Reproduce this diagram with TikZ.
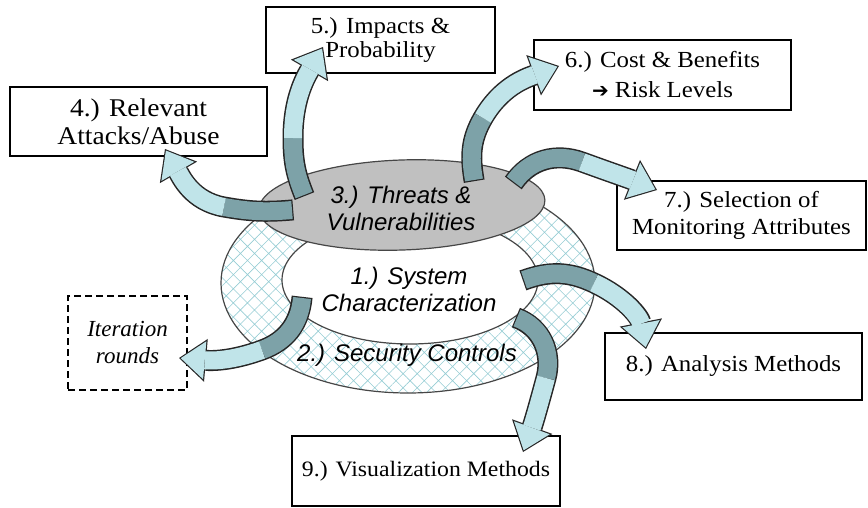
\documentclass[tikz,border=0pt]{standalone}
\usepackage{fontspec}
\setmainfont{Liberation Serif}
\setsansfont{Liberation Sans}
\newfontfamily\boxfont{Liberation Serif}[FakeStretch=1.08]
\newfontfamily\symfont{DejaVu Sans}
\usetikzlibrary{arrows.meta,patterns.meta}

\definecolor{ringhatch}{RGB}{150,205,212}
\definecolor{threatgray}{RGB}{192,192,192}
\definecolor{edgegray}{RGB}{70,70,70}
\definecolor{arrowlight}{RGB}{192,228,233}
\definecolor{arrowdark}{RGB}{125,162,168}

\tikzset{
  box/.style={draw, line width=1.3pt, fill=white, inner sep=0pt, align=center,
    font=\boxfont\fontsize{23}{27}\selectfont},
  ringline/.style={draw=edgegray, line width=1.2pt},
  ovaltext/.style={align=center, font=\sffamily\itshape\fontsize{24}{27}\selectfont},
  twistrim/.style={draw=black!85, line width=21pt, shorten <=-1.2pt,
    -{Triangle[width=43pt,length=27pt,line width=0pt]}},
  twistback/.style={draw=arrowdark, line width=18pt},
  twistfront/.style={draw=arrowlight, line width=18pt, shorten >=1.8pt,
    -{Triangle[width=38pt,length=24pt,line width=0pt]}},
}

% curled block arrow: start, twist, tip, first bend, second bend
\newcommand{\curl}[5]{%
  \path[twistrim] (#1) to[#4] (#2) to[#5] (#3);
  \path[twistback] (#1) to[#4] (#2);
  \path[twistfront] (#2) to[#5] (#3);
}

\begin{document}
\begin{tikzpicture}[x=1pt,y=1pt]
  \useasboundingbox (0,0) rectangle (868,-508);

  % the three rings
  \draw[ringline, pattern={Hatch[angle=45,distance=10pt,line width=.6pt]},
    pattern color=ringhatch] (408,-283) ellipse [x radius=187pt, y radius=110pt];
  \draw[ringline, fill=white] (410,-280) ellipse [x radius=128pt, y radius=64pt];
  \draw[ringline, fill=threatgray, rotate around={2:(402,-205)}]
    (402,-205) ellipse [x radius=143pt, y radius=45pt];

  \node[ovaltext] (threats) at (401,-208) {3.) Threats \&\\Vulnerabilities};
  \node[ovaltext] (system) at (409,-289) {1.) System\\Characterization};
  \node[ovaltext] (controls) at (407,-355) {2.) Security Controls};

  % steps
  \node[box, minimum width=229pt, minimum height=66pt,
    font=\boxfont\fontsize{23}{24}\selectfont] (impacts) at (380.5,-40)
    {5.) Impacts \&\\Probability};
  \node[box, minimum width=257pt, minimum height=70pt,
    font=\boxfont\fontsize{23}{30}\selectfont] (cost) at (662.5,-75)
    {6.) Cost \& Benefits\\{\symfont\bfseries\fontsize{20}{20}\selectfont ➔} Risk Levels};
  \node[box, minimum width=257pt, minimum height=69pt,
    font=\boxfont\fontsize{25.5}{28}\selectfont] (attacks) at (138.5,-121.5)
    {4.) Relevant\\Attacks/Abuse};
  \node[box, minimum width=249pt, minimum height=69pt] (monitor) at (741.5,-215.5)
    {7.) Selection of\\Monitoring Attributes};
  \node[box, minimum width=257pt, minimum height=67pt] (analysis) at (733.5,-366.5)
    {8.) Analysis Methods};
  \node[box, minimum width=268pt, minimum height=70pt,
    font=\boxfont\fontsize{22}{27}\selectfont] (visual) at (426,-471)
    {9.) Visualization Methods};
  \node[box, dashed, dash pattern=on 7pt off 4pt, minimum width=119pt,
    minimum height=94pt, font=\itshape\fontsize{23}{27}\selectfont] (iter)
    at (127.5,-343) {Iteration\\rounds};

  % arrow ends
  \coordinate (a4s) at (292,-210);
  \coordinate (a4t) at (224,-207);
  \coordinate (a4e) at (165,-149);
  \coordinate (a5s) at (304,-195);
  \coordinate (a5t) at (293,-138);
  \coordinate (a5e) at (323,-47);
  \coordinate (a6s) at (474,-180);
  \coordinate (a6t) at (483,-118);
  \coordinate (a6e) at (559,-66);
  \coordinate (a7s) at (514,-182);
  \coordinate (a7t) at (582,-162);
  \coordinate (a7e) at (657,-190);
  \coordinate (a8s) at (524,-280);
  \coordinate (a8t) at (594,-283);
  \coordinate (a8e) at (646,-349);
  \coordinate (a9s) at (517,-318);
  \coordinate (a9t) at (546,-378);
  \coordinate (a9e) at (523,-452);
  \coordinate (ais) at (302,-298);
  \coordinate (ait) at (262,-350);
  \coordinate (aie) at (179,-358);

  \curl{a4s}{a4t}{a4e}{out=185,in=-10}{out=170,in=-60}
  \curl{a5s}{a5t}{a5e}{out=112,in=-90}{out=90,in=240}
  \curl{a6s}{a6t}{a6e}{out=100,in=240}{out=60,in=200}
  \curl{a7s}{a7t}{a7e}{out=55,in=160}{out=-20,in=158}
  \curl{a8s}{a8t}{a8e}{out=20,in=155}{out=-25,in=101}
  \curl{a9s}{a9t}{a9e}{out=-20,in=75}{out=-105,in=70}
  \curl{ais}{ait}{aie}{out=-95,in=20}{out=-160,in=-5}
\end{tikzpicture}
\end{document}
